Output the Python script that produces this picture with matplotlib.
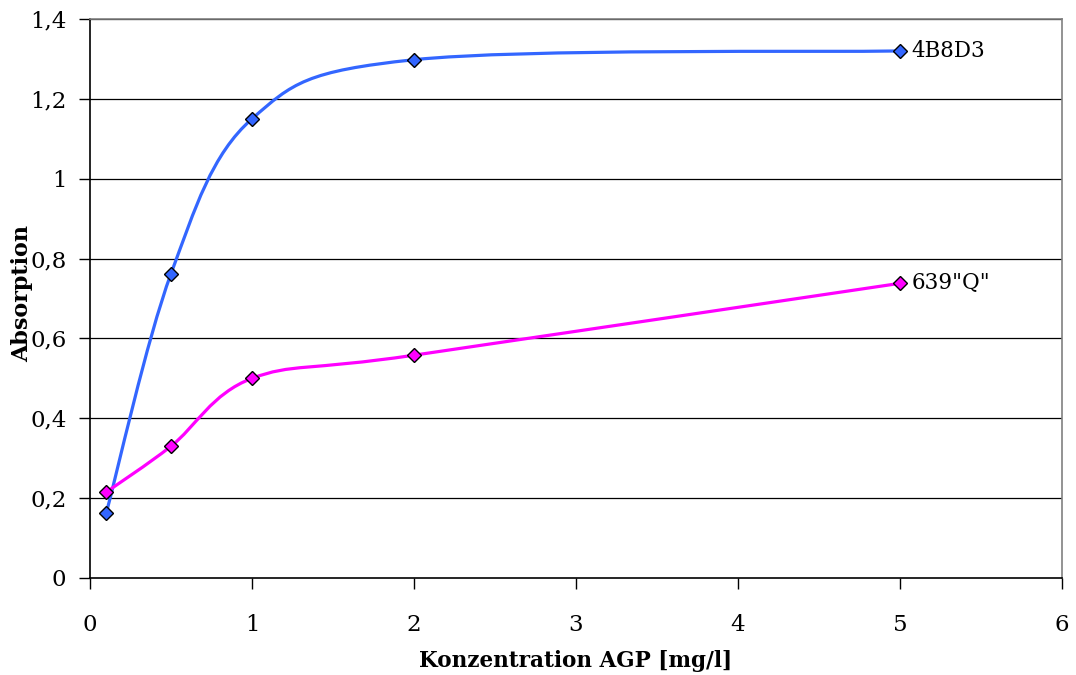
import numpy as np
import matplotlib
matplotlib.use('Agg')
import matplotlib.pyplot as plt
from matplotlib.path import Path
from matplotlib.patches import PathPatch

# data
konz = [0.1, 0.5, 1, 2, 5]
abs_4b8d3 = [0.162, 0.762, 1.15, 1.298, 1.32]
abs_639q = [0.215, 0.33, 0.50, 0.558, 0.738]
names = ['4B8D3', '639"Q"']
colors = ['#3366FF', '#FF00FF']

xticks = [0, 1, 2, 3, 4, 5, 6]
yticks = [0, 0.2, 0.4, 0.6, 0.8, 1.0, 1.2, 1.4]
ytick_labels = ['0', '0,2', '0,4', '0,6', '0,8', '1', '1,2', '1,4']

plt.rcParams['font.family'] = ['DejaVu Serif']


def smoothPath(x, y):
    """Excel-like smoothed line: cubic bezier through the points (catmull-rom)."""
    pts = np.column_stack([x, y]).astype(float)
    n = len(pts)
    verts = [pts[0]]
    codes = [Path.MOVETO]
    for i in range(n - 1):
        p0 = pts[max(i - 1, 0)]
        p1 = pts[i]
        p2 = pts[i + 1]
        p3 = pts[min(i + 2, n - 1)]
        c1 = p1 + (p2 - p0) / 6.0
        c2 = p2 - (p3 - p1) / 6.0
        verts += [c1, c2, p2]
        codes += [Path.CURVE4] * 3
    return Path(verts, codes)


fig = plt.figure(figsize=(10.76, 6.75), dpi=100)
ax = fig.add_axes([90 / 1076, 1 - 578 / 675, (1062 - 90) / 1076, (578 - 19) / 675])

for yv in yticks[1:]:
    ax.axhline(yv, color='black', lw=0.9, zorder=1)

for ys, name, col in zip([abs_4b8d3, abs_639q], names, colors):
    ax.add_patch(PathPatch(smoothPath(konz, ys), facecolor='none', edgecolor=col,
                           lw=2.3, zorder=2))
    ax.plot(konz, ys, ls='none', marker='D', ms=7, mfc=col, mec='black', mew=1.0, zorder=3)
    ax.text(konz[-1] + 0.07, ys[-1], name, fontsize=15.5, va='center', ha='left', zorder=4)

ax.set_xlim(0, 6)
ax.set_ylim(0, 1.4)
ax.set_xticks(xticks)
ax.set_xticklabels([str(v) for v in xticks])
ax.set_yticks(yticks)
ax.set_yticklabels(ytick_labels)
ax.tick_params(axis='both', direction='out', length=8, width=1, labelsize=16.5)
ax.tick_params(axis='x', pad=18)
ax.tick_params(axis='y', pad=9)

for s in ['top', 'right']:
    ax.spines[s].set_color('#808080')
    ax.spines[s].set_linewidth(1.2)
for s in ['left', 'bottom']:
    ax.spines[s].set_color('black')
    ax.spines[s].set_linewidth(1.2)

fig.text(576 / 1076, 1 - 661 / 675, 'Konzentration AGP [mg/l]', fontsize=15.5,
         fontweight='bold', ha='center', va='center')
fig.text(22 / 1076, 1 - 294 / 675, 'Absorption', fontsize=16, fontweight='bold',
         ha='center', va='center', rotation=90)

fig.savefig('out.png', dpi=100)
plt.close()
